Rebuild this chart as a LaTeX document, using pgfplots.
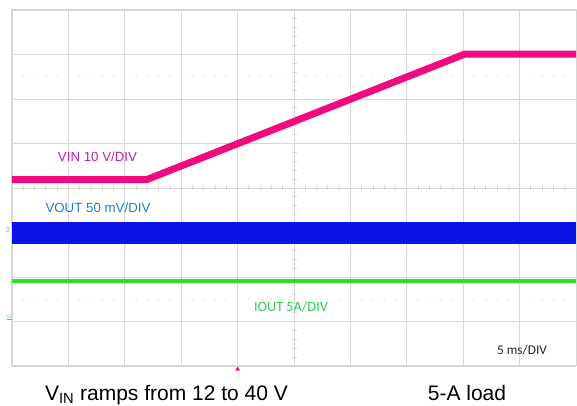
\documentclass[border=0pt]{standalone}
\usepackage{pgfplots}
\pgfplotsset{compat=1.18}
\usepackage{fontspec}
\setmainfont{Liberation Sans}
\newfontfamily\calibri{Carlito}
\definecolor{vin}{RGB}{240,10,125}
\definecolor{vinlab}{RGB}{185,35,165}
\definecolor{vout}{RGB}{10,20,230}
\definecolor{voutlab}{RGB}{30,125,205}
\definecolor{iout}{RGB}{45,225,45}
\definecolor{ioutlab}{RGB}{50,200,90}
\definecolor{gridc}{RGB}{215,215,215}
\begin{document}
\begin{tikzpicture}[x=1pt,y=1pt]
\path[use as bounding box] (-12,-40) rectangle (565,366);
% dotted rows at +/-2.5 div
\foreach \k in {1,...,49}{%
  \pgfmathtruncatemacro\m{mod(\k,5)}%
  \ifnum\m>0
    \fill[gridc] (\k*11.28,66.75) circle (0.75);
    \fill[gridc] (\k*11.28,289.25) circle (0.75);
  \fi
}
% minor ticks on centre lines
\foreach \k in {1,...,49}{\draw[gridc, line width=0.8pt] (\k*11.28,175.5) -- (\k*11.28,180.5);}
\foreach \k in {1,...,39}{\draw[gridc, line width=0.8pt] (279.5,\k*8.9) -- (284.5,\k*8.9);}
\begin{axis}[at={(0,0)}, anchor=south west, scale only axis,
  width=564pt, height=356pt,
  xmin=0, xmax=10, ymin=-4, ymax=4,
  xtick={0,...,10}, ytick={-4,...,4},
  xticklabels={}, yticklabels={},
  major tick length=0pt,
  grid=major, major grid style={gridc, line width=0.9pt},
  axis line style={gridc, line width=1pt}]
\addplot[vout, line width=22pt] coordinates {(0,-1.02) (10,-1.02)};
\addplot[iout, line width=4.5pt] coordinates {(0,-2.09) (10,-2.09)};
\addplot[vin, line width=7pt, line join=round] coordinates {(0,0.19) (2.39,0.19) (8.03,3.01) (10,3.01)};
\addplot[vin, only marks, mark=triangle*, mark size=2.3pt, clip=false] coordinates {(4.0,-4.07)};
\end{axis}
\draw[gridc, line width=2pt] (0,0) -- (564,0);
% labels (1pt = 1px; x = px-12, y = 366-py)
\node[font=\fontsize{13.3}{15}\selectfont, text=vinlab] at (85.5,209) {VIN 10 V/DIV};
\node[font=\fontsize{13.3}{15}\selectfont, text=voutlab] at (86,158.3) {VOUT 50 mV/DIV};
\node[font=\calibri\fontsize{14.3}{16}\selectfont, text=ioutlab] at (279,59.3) {IOUT 5A/DIV};
\node[font=\calibri\fontsize{13.3}{15}\selectfont, text=black!85] at (510,16) {5 ms/DIV};
\node[font=\fontsize{4}{4}\selectfont, text=vin, rotate=90] at (-4,136.5) {C2};
\node[font=\fontsize{4}{4}\selectfont, text=iout] at (-3,49) {C4};
\draw[iout, line width=1pt] (-5,46) -- (0,46);
\node[font=\fontsize{21}{23}\selectfont, anchor=base] at (154.5,-34) {V\textsubscript{IN} ramps from 12 to 40 V};
\node[font=\fontsize{21}{23}\selectfont, anchor=base] at (455,-34) {5-A load};
\end{tikzpicture}
\end{document}
